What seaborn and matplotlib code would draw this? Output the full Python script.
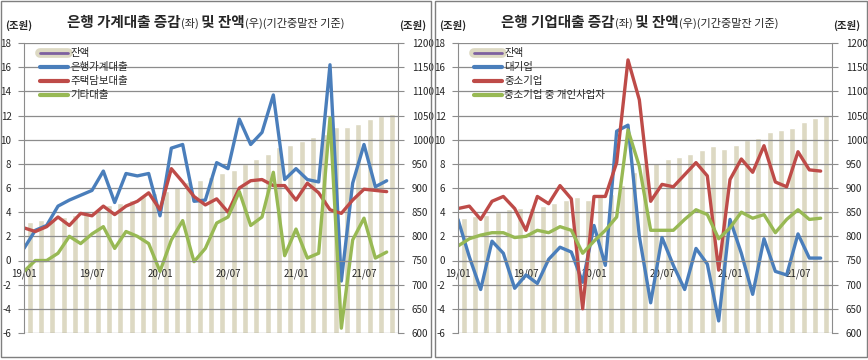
import numpy as np
import pandas as pd
import matplotlib
matplotlib.use('Agg')
import matplotlib.pyplot as plt
from matplotlib.lines import Line2D
from matplotlib.patches import Rectangle
import seaborn as sns

sns.set_style('white')
plt.rcParams['font.family'] = ['Noto Sans CJK KR', 'DejaVu Sans']
plt.rcParams['axes.unicode_minus'] = False

# month labels 19/01 .. 21/09
months = [f'{y:02d}/{m:02d}' for y in (19, 20, 21) for m in range(1, 13)][:33]
tick_labels = ['19/01', '19/07', '20/01', '20/07', '21/01', '21/07']

# household loans (left panel)
hh_total = [1.0, 2.5, 2.9, 4.5, 5.0, 5.4, 5.8, 7.4, 4.8, 7.2, 7.0, 7.2,
            3.7, 9.3, 9.6, 4.9, 5.0, 8.1, 7.6, 11.7, 9.6, 10.6, 13.7, 6.7,
            7.6, 6.7, 6.5, 16.2, -1.7, 6.4, 9.6, 6.1, 6.6]
hh_mortgage = [2.7, 2.4, 2.8, 3.6, 2.9, 3.9, 3.7, 4.5, 3.8, 4.5, 4.9, 5.6,
               4.2, 7.6, 6.5, 5.3, 4.6, 5.1, 4.0, 6.0, 6.6, 6.7, 6.2, 6.2,
               5.0, 6.4, 5.6, 4.2, 3.9, 5.0, 5.9, 5.8, 5.7]
hh_other = [-0.9, 0.0, 0.0, 0.6, 2.0, 1.4, 2.2, 2.8, 1.0, 2.4, 2.0, 1.4,
            -0.9, 1.7, 3.3, -0.1, 1.0, 3.1, 3.6, 5.7, 2.9, 3.6, 7.3, 0.4,
            2.6, 0.2, 0.6, 11.8, -5.6, 1.7, 3.5, 0.2, 0.7]
hh_balance = [830, 833, 836, 840, 845, 851, 856, 864, 869, 876, 883, 890,
              894, 903, 913, 917, 922, 931, 938, 950, 959, 970, 984, 990,
              998, 1005, 1011, 1027, 1026, 1032, 1042, 1048, 1054]

# corporate loans (right panel)
co_large = [3.4, 0.3, -2.4, 1.6, 0.6, -2.3, -1.2, -1.9, 0.1, 1.1, 0.7, -1.8,
            2.9, -0.4, 10.7, 11.2, 2.0, -3.5, 1.9, -0.4, -2.4, 1.0, -0.3, -5.0,
            3.4, 0.6, -2.8, 1.8, -0.9, -1.2, 2.2, 0.2, 0.2]
co_sme = [4.3, 4.5, 3.4, 4.9, 5.3, 4.3, 2.5, 5.3, 4.7, 6.2, 5.1, -4.0,
          5.3, 5.3, 8.1, 16.6, 13.3, 4.9, 6.3, 6.1, 7.1, 8.1, 7.0, -0.8,
          6.7, 8.4, 7.3, 9.5, 6.5, 6.1, 9.0, 7.5, 7.4]
co_self = [1.2, 1.8, 2.1, 2.3, 2.3, 1.9, 2.0, 2.5, 2.3, 2.8, 2.5, 0.6,
           1.6, 2.5, 3.6, 10.8, 7.8, 2.5, 2.5, 2.5, 3.4, 4.2, 3.8, 1.8,
           2.7, 4.0, 3.5, 3.8, 2.3, 3.4, 4.2, 3.4, 3.5]
co_balance = [838, 843, 844, 850, 856, 858, 859, 863, 868, 875, 881, 875,
              883, 888, 907, 934, 950, 951, 959, 965, 970, 979, 986, 980,
              990, 999, 1003, 1015, 1020, 1025, 1036, 1044, 1052]

BLUE = '#4A7EBB'
RED = '#BE4B48'
GREEN = '#98B954'
BEIGE = '#DDD9C3'
PURPLE = '#7D60A0'
GRID = '#8C8C8C'

W, H = 868, 360
fig = plt.figure(figsize=(W / 100, H / 100), dpi=100)


def px_text(x, y, s, **kw):
    # x, y in pixels from top-left
    return fig.text(x / W, 1 - y / H, s, **kw)


def draw_title(x, y, parts):
    r = fig.canvas.get_renderer()
    for s, size, weight in parts:
        t = px_text(x, y, s, fontsize=size, fontweight=weight, va='baseline', ha='left')
        x = t.get_window_extent(r).x1


def panel(x0, title_parts, series, balance, names):
    ax = fig.add_axes([x0 / W, 27 / H, 374 / W, 290 / H])
    axb = ax.twinx()
    ax.set_zorder(2)
    axb.set_zorder(1)
    ax.patch.set_visible(False)

    idx = np.arange(len(months))
    df_bar = pd.DataFrame({'pos': idx + 0.5, 'bal': balance})
    sns.barplot(data=df_bar, x='pos', y='bal', native_scale=True, orient='x',
                width=0.55, color=BEIGE, saturation=1, errorbar=None, ax=axb)
    for vals, col in series:
        sns.lineplot(x=idx, y=vals, color=col, lw=2.4, ax=ax)

    ax.set_xlim(0, 33)
    ax.set_ylim(-6, 18)
    axb.set_ylim(600, 1200)
    ax.set_yticks(np.arange(-6, 19, 2))
    axb.set_yticks(np.arange(600, 1201, 50))
    ax.yaxis.grid(True, color=GRID, lw=0.9)
    ax.set_axisbelow(True)
    axb.grid(False)

    ax.set_xticks(idx[::6][:6])
    ax.set_xticklabels(tick_labels)
    ax.spines['bottom'].set_position(('data', 0))
    ax.spines['bottom'].set_color(GRID)
    ax.tick_params(axis='x', direction='in', length=4, color=GRID, pad=6,
                   labelsize=7)
    ax.tick_params(axis='y', direction='out', length=4, color=GRID, pad=5,
                   labelsize=7)
    axb.tick_params(axis='y', direction='out', length=4, color=GRID, pad=6,
                    labelsize=7)
    for a in (ax, axb):
        a.set_xlabel('')
        a.set_ylabel('')
        a.spines['top'].set_visible(False)
    ax.spines['left'].set_color(GRID)
    ax.spines['right'].set_visible(False)
    axb.spines['left'].set_visible(False)
    axb.spines['bottom'].set_visible(False)
    axb.spines['right'].set_color(GRID)

    handles = [(Line2D([], [], color=BEIGE, lw=7), Line2D([], [], color=PURPLE, lw=2))]
    handles += [Line2D([], [], color=c, lw=3) for _, c in series]
    ax.legend(handles, names, loc='upper left', bbox_to_anchor=(0.02, 1.01),
              frameon=False, fontsize=7.5, handlelength=2.7, handletextpad=0.2,
              labelspacing=0.38, borderpad=0.3)

    draw_title(x0 + 43, 27, title_parts)
    px_text(x0 - 19, 29, '(조원)', fontsize=7.5, fontweight='bold', va='baseline')
    px_text(x0 + 375, 29, '(조원)', fontsize=7.5, fontweight='bold', va='baseline')


panel(24,
      [('은행 가계대출 증감', 10.5, 'bold'), ('(좌)', 8, 'normal'),
       (' 및 잔액', 10.5, 'bold'), ('(우)(기간중말잔 기준)', 8, 'normal')],
      [(hh_total, BLUE), (hh_mortgage, RED), (hh_other, GREEN)],
      hh_balance, ['잔액', '은행가계대출', '주택담보대출', '기타대출'])

panel(458,
      [('은행 기업대출 증감', 10.5, 'bold'), ('(좌)', 8, 'normal'),
       (' 및 잔액', 10.5, 'bold'), ('(우)(기간중말잔 기준)', 8, 'normal')],
      [(co_large, BLUE), (co_sme, RED), (co_self, GREEN)],
      co_balance, ['잔액', '대기업', '중소기업', '중소기업 중 개인사업자'])

# panel frames
fig.patches.append(Rectangle((1 / W, 3 / H), 430 / W, 356 / H, transform=fig.transFigure,
                             fill=False, edgecolor='#7F7F7F', lw=1))
fig.patches.append(Rectangle((435 / W, 3 / H), 432 / W, 356 / H, transform=fig.transFigure,
                             fill=False, edgecolor='#7F7F7F', lw=1))

fig.savefig('out.png', dpi=100)
